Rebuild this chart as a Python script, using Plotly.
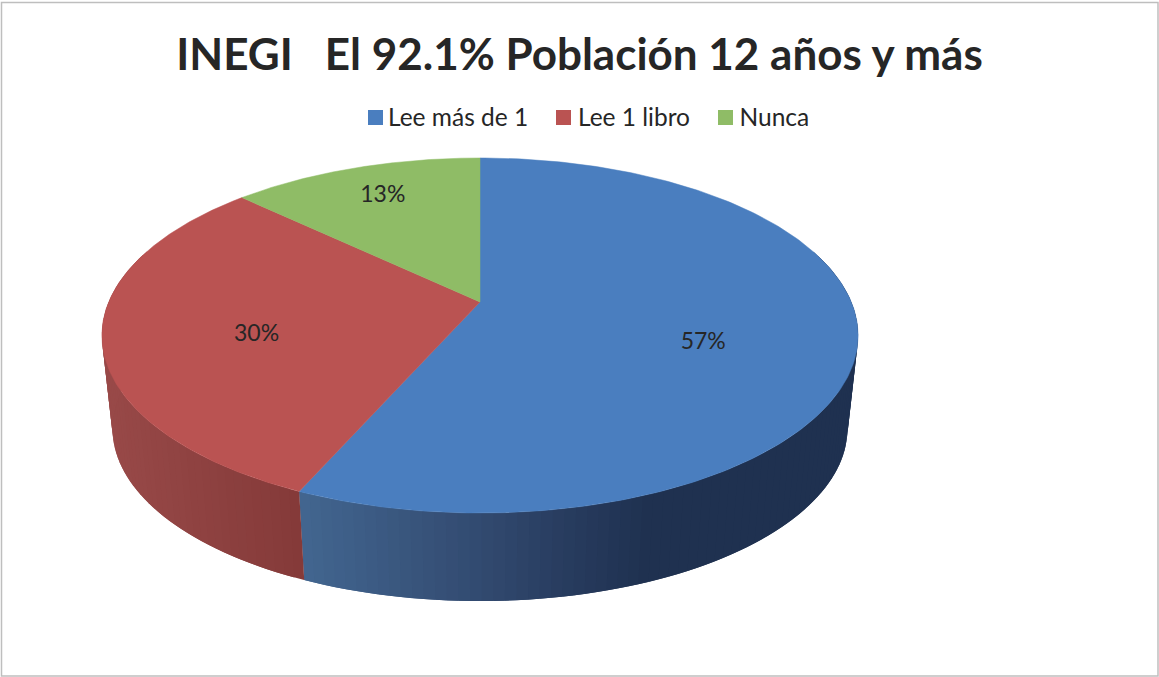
import numpy as np
import plotly.graph_objects as go

TITLE = "INEGI   El 92.1% Población 12 años y más"
CATEGORIES = ["Lee más de 1", "Lee 1 libro", "Nunca"]
VALUES = [56.6, 30.5, 12.9]
LABELS = ["57%", "30%", "13%"]
TOP_COLORS = ["#4A7EBF", "#BA5352", "#8FBC66"]

W, H = 1159, 677
CX, CY, BX, AY, K = 480.0, 302.0, 371.3, 171.2, 0.1887   # perspective of the top face
S, CY_BOTTOM = 0.972, 396.0                              # bottom face


def project(r, deg, bottom=False):
    t = np.radians(deg)
    X, Y = r * np.sin(t), r * np.cos(t)
    d = 1 + K * Y
    px, py = BX * X / d, -AY * Y / d
    if bottom:
        return CX + S * px, CY_BOTTOM + S * py
    return CX + px, CY + py


def side_color(i, x):
    if i == 0:
        stops_x, stops = [300, 480, 580, 650], [(66, 102, 144), (50, 74, 112), (38, 58, 92), (31, 49, 80)]
    else:
        stops_x, stops = [105, 300], [(152, 73, 72), (132, 58, 57)]
    c = [int(round(np.interp(x, stops_x, [s[j] for s in stops]))) for j in range(3)]
    return f"rgb({c[0]},{c[1]},{c[2]})"


fig = go.Figure()
edges = np.concatenate([[0], np.cumsum(VALUES)]) / sum(VALUES) * 360

# Side wall: overlapping strips, painted in angle order so no seams appear
for i in [0, 1]:
    a0, a1 = edges[i], edges[i + 1]
    steps = np.linspace(a0, a1, int((a1 - a0) / 1.5) + 2)
    for n, (s0, s1) in enumerate(zip(steps[:-1], steps[1:])):
        mid = (s0 + s1) / 2
        if np.cos(np.radians(mid)) > 0.3:
            continue
        # each strip runs on under the next one
        end = steps[min(n + 2, len(steps) - 1)]
        arc = np.linspace(s0, end, 5)
        xt, yt = project(1, arc)
        xb, yb = project(1, arc[::-1], True)
        col = side_color(i, float(np.mean(project(1, np.array([s0, s1]))[0])))
        fig.add_trace(go.Scatter(
            x=np.concatenate([xt, xb, xt[:1]]), y=np.concatenate([yt, yb, yt[:1]]),
            mode="lines", fill="toself", fillcolor=col,
            line=dict(color=col, width=0), hoverinfo="skip", showlegend=False))

# Top face
for i, name in enumerate(CATEGORIES):
    t = np.linspace(edges[i], edges[i + 1], 240)
    xs, ys = project(1, t)
    fig.add_trace(go.Scatter(
        x=np.concatenate([[CX], xs, [CX]]), y=np.concatenate([[CY], ys, [CY]]),
        mode="lines", fill="toself", fillcolor=TOP_COLORS[i],
        line=dict(color=TOP_COLORS[i], width=0.5), name=name, showlegend=False,
        hoverinfo="name"))

# Data labels
LABEL_R = [0.6, 0.6, 0.75]
LABEL_DY = [20, 13, -1]
mids = (edges[:-1] + edges[1:]) / 2
lx, ly = [], []
for m, r, dy in zip(mids, LABEL_R, LABEL_DY):
    x, y = project(r, m)
    lx.append(float(x)); ly.append(float(y) + dy)
fig.add_trace(go.Scatter(
    x=lx, y=ly, mode="text", text=LABELS, showlegend=False, hoverinfo="skip",
    textfont=dict(family="Lato", size=23, color="#262626")))

# Legend row
LEG_X = [375.5, 563.5, 725.5]
LEG_TEXT_X = [388, 578, 739.5]
for name, col, x, tx in zip(CATEGORIES, TOP_COLORS, LEG_X, LEG_TEXT_X):
    fig.add_trace(go.Scatter(
        x=[x], y=[117.5], mode="markers",
        marker=dict(symbol="square", size=15, color=col, line=dict(width=0)),
        showlegend=False, hoverinfo="skip"))
    fig.add_trace(go.Scatter(
        x=[tx], y=[120], mode="text", text=[name], textposition="middle right",
        textfont=dict(family="Lato", size=24.5, color="#262626"),
        showlegend=False, hoverinfo="skip"))

fig.update_layout(
    width=W, height=H, margin=dict(l=0, r=0, t=0, b=0),
    paper_bgcolor="white", plot_bgcolor="white", showlegend=False,
    title=dict(text=f"<b>{TITLE}</b>", x=0.5, xanchor="center", y=1 - 55 / H, yanchor="middle",
               font=dict(family="Lato", size=44, color="#262626")),
    xaxis=dict(range=[0, W], visible=False, fixedrange=True),
    yaxis=dict(range=[H, 0], visible=False, fixedrange=True),
    shapes=[dict(type="rect", x0=1.5, y0=2.5, x1=1158, y1=676,
                 line=dict(color="#BEBEBE", width=1.5))],
)
fig.write_html("out.html", config={"displayModeBar": False},
               post_script="document.body.style.margin='0';document.documentElement.style.overflow='hidden';")
